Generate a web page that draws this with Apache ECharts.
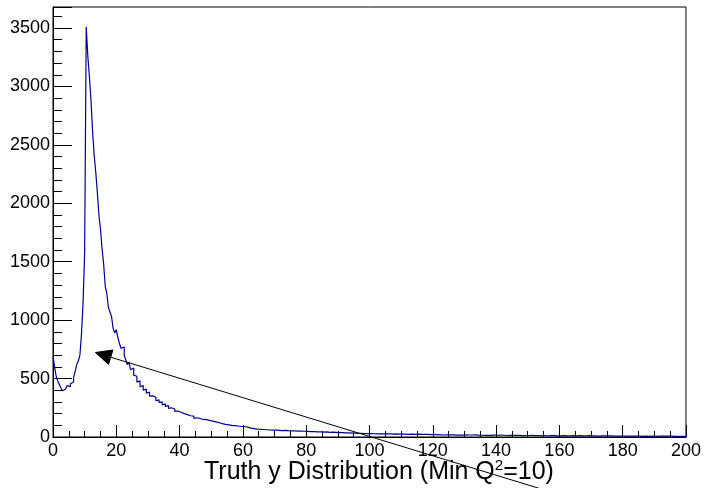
<!DOCTYPE html>
<html>
<head>
<meta charset="utf-8">
<script src="https://cdn.jsdelivr.net/npm/echarts@6/dist/echarts.min.js"></script>
<style>
  html, body { margin: 0; padding: 0; background: #fff; }
  #chart { width: 704px; height: 488px; }
</style>
</head>
<body>
<div id="chart"></div>
<script>
// Histogram: bins of width 0.5 from 0 to 200
const binWidth = 0.5;
const xMin = 0, xMax = 200;
const yMin = 0, yMax = 3680;
const xTickInterval = 20;
const yMajorInterval = 500;
const yMinorInterval = 100;
const counts = [
  690, 600, 520, 480, 450, 420, 395, 410, 420, 440,
  430, 455, 470, 510, 560, 620, 650, 700, 880, 1150,
  1580, 3510, 3260, 3085, 2885, 2620, 2414, 2270, 2100, 1900,
  1780, 1610, 1480, 1290, 1230, 1110, 1070, 1030, 930, 890,
  920, 850, 800, 760, 770, 700, 660, 620, 640, 575,
  590, 530, 520, 470, 480, 430, 440, 400, 410, 375,
  385, 350, 352, 336, 340, 310, 318, 296, 300, 275,
  285, 262, 268, 245, 250, 236, 240, 218, 222, 210,
  212, 195, 200, 188, 192, 176, 182, 170, 178, 160,
  165, 152, 158, 147, 150, 140, 148, 136, 142, 132,
  136, 128, 130, 116, 122, 110, 114, 104, 108, 98,
  104, 96, 100, 92, 98, 88, 94, 86, 90, 84,
  90, 80, 84, 72, 76, 68, 72, 64, 68, 60,
  66, 58, 64, 56, 62, 54, 60, 55, 58, 52,
  58, 51, 57, 50, 55, 49, 56, 48, 54, 47,
  53, 46, 52, 45, 51, 44, 50, 43, 49, 42,
  48, 43, 46, 40, 47, 41, 44, 39, 45, 38,
  42, 37, 44, 36, 40, 38, 41, 33, 39, 35,
  37, 33, 38, 30, 35, 32, 36, 29, 33, 30,
  33, 28, 31, 27, 32, 26, 30, 27, 29, 25,
  29, 25, 28, 24, 27, 25, 28, 23, 26, 24,
  27, 23, 26, 22, 25, 24, 26, 21, 25, 22,
  25, 21, 24, 22, 23, 20, 25, 21, 22, 20,
  24, 20, 22, 19, 23, 21, 22, 18, 21, 19,
  20, 19, 21, 18, 19, 20, 17, 19, 18, 20,
  18, 17, 19, 18, 16, 18, 17, 19, 16, 17,
  18, 16, 17, 15, 17, 16, 18, 15, 16, 17,
  15, 16, 14, 16, 15, 17, 14, 15, 16, 14,
  15, 14, 16, 13, 15, 14, 13, 15, 14, 13,
  14, 13, 15, 12, 14, 13, 12, 14, 13, 12,
  13, 12, 14, 12, 11, 13, 12, 11, 13, 12,
  11, 12, 10, 12, 11, 10, 12, 11, 10, 11,
  10, 11, 12, 10, 9, 11, 10, 9, 11, 10,
  9, 10, 11, 9, 10, 8, 10, 9, 11, 9,
  10, 8, 9, 10, 8, 9, 10, 8, 9, 8,
  9, 8, 10, 8, 7, 9, 8, 9, 7, 8,
  8, 9, 7, 8, 7, 9, 8, 7, 8, 7,
  8, 7, 6, 8, 7, 8, 6, 7, 8, 7,
  6, 7, 8, 6, 7, 6, 7, 5, 7, 6,
  7, 6, 5, 7, 6, 6, 5, 7, 6, 5
];
// Annotation arrow (data coordinates): tip and tail
const arrowTip = [13.4, 723];
const arrowTail = [159.7, -490];
const axisTitle = 'Truth y Distribution (Min Q';

const stepData = counts.map((v, i) => [xMin + i * binWidth, v]);
stepData.push([xMin + counts.length * binWidth, counts[counts.length - 1]]);

const FONT = 'Liberation Sans, Arial, Helvetica, sans-serif';
const chart = echarts.init(document.getElementById('chart'), null, { renderer: 'canvas' });

chart.setOption({
  animation: false,
  backgroundColor: '#fff',
  title: {
    text: '{m|' + axisTitle + '}{s|2}{m|=10)}',
    left: 204,
    top: 455,
    padding: 0,
    textStyle: {
      fontWeight: 'normal',
      rich: {
        m: { fontFamily: FONT, fontSize: 25, fontWeight: 'normal', color: '#000', lineHeight: 30, verticalAlign: 'bottom' },
        s: { fontFamily: FONT, fontSize: 15, fontWeight: 'normal', color: '#000', lineHeight: 30, verticalAlign: 'bottom', padding: [0, 0, 12, 0] }
      }
    }
  },
  grid: {
    left: 53, right: 16, top: 7, bottom: 51,
    show: true, borderColor: '#000', borderWidth: 1, backgroundColor: 'transparent'
  },
  xAxis: {
    type: 'value',
    min: xMin, max: xMax, interval: xTickInterval,
    axisLine: { show: true, onZero: false, lineStyle: { color: '#000', width: 1 } },
    axisTick: { show: true, inside: true, length: 12, lineStyle: { color: '#000', width: 1 } },
    minorTick: { show: true, splitNumber: 4, length: 6, lineStyle: { color: '#000', width: 1 } },
    splitLine: { show: false },
    axisLabel: { color: '#000', fontFamily: FONT, fontSize: 18, margin: 5 }
  },
  yAxis: [
    {
      type: 'value',
      min: yMin, max: yMax, interval: yMajorInterval,
      position: 'left',
      axisLine: { show: true, lineStyle: { color: '#000', width: 1 } },
      axisTick: { show: true, inside: true, length: 19, lineStyle: { color: '#000', width: 1 } },
      splitLine: { show: false },
      axisLabel: {
        color: '#000', fontFamily: FONT, fontSize: 18, margin: 3,
        formatter: v => (v % yMajorInterval === 0 ? String(v) : '')
      }
    },
    {
      type: 'value',
      min: yMin, max: yMax, interval: yMinorInterval,
      position: 'left',
      axisLine: { show: false },
      axisTick: { show: true, inside: true, length: 9, lineStyle: { color: '#000', width: 1 } },
      splitLine: { show: false },
      axisLabel: { show: false }
    }
  ],
  series: [{
    type: 'line',
    step: 'end',
    data: stepData,
    showSymbol: false,
    clip: true,
    lineStyle: { color: '#000094', width: 1.2 },
    z: 3
  }]
});

// Arrow annotation, positioned through the chart's own scales
const tip = chart.convertToPixel({ gridIndex: 0 }, arrowTip);
const tail = chart.convertToPixel({ gridIndex: 0 }, arrowTail);
const dx = tip[0] - tail[0], dy = tip[1] - tail[1];
const len = Math.sqrt(dx * dx + dy * dy);
const ux = dx / len, uy = dy / len;
const headLen = 16, headHalf = 7.5;
const bx = tip[0] - ux * headLen, by = tip[1] - uy * headLen;
chart.setOption({
  graphic: [
    {
      type: 'line', z: 10,
      shape: { x1: tail[0], y1: tail[1], x2: bx, y2: by },
      style: { stroke: '#000', lineWidth: 1 }
    },
    {
      type: 'polygon', z: 10,
      shape: { points: [
        [tip[0], tip[1]],
        [bx - uy * headHalf, by + ux * headHalf],
        [bx + uy * headHalf, by - ux * headHalf]
      ] },
      style: { fill: '#000', stroke: '#000', lineWidth: 1 }
    }
  ]
});
</script>
</body>
</html>
